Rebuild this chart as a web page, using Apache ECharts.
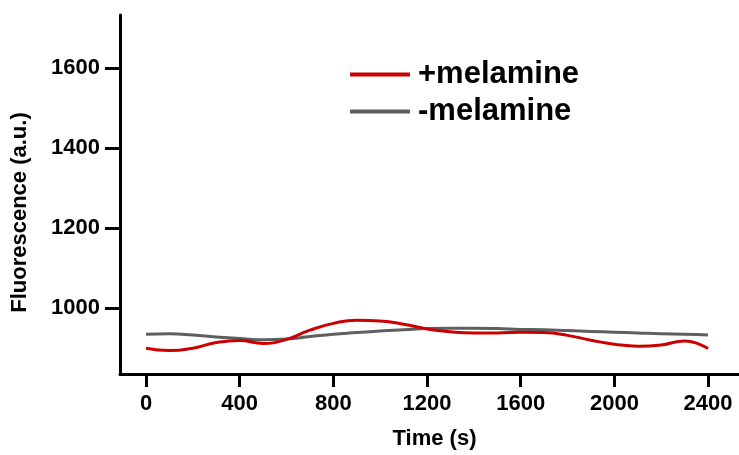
<!DOCTYPE html>
<html>
<head>
<meta charset="utf-8">
<script src="https://cdn.jsdelivr.net/npm/echarts@6/dist/echarts.min.js"></script>
<style>
html,body{margin:0;padding:0;background:#fff;}
#chart{width:739px;height:455px;}
</style>
</head>
<body>
<div id="chart"></div>
<script>
var times = [0,100,200,300,400,500,600,700,800,900,1000,1100,1200,1300,1400,1500,1600,1700,1800,1900,2000,2100,2200,2300,2400];
var plusMelamine = [900,894,900,914,919,912,922,945,962,970,968,960,948,941,938,938,940,939,932,920,910,905,908,918,899];
var minusMelamine = [935,936,933,928,924,921,923,929,935,939,943,946,949,950,950,949,947,946,944,942,940,938,936,935,933];
var xTicks = [0,400,800,1200,1600,2000,2400];
var yTicks = [1000,1200,1400,1600];
var seriesNames = ['+melamine','-melamine'];

function pairs(xs, ys){ return xs.map(function(x,i){ return [x, ys[i]]; }); }

var font = '"Liberation Sans", Arial, sans-serif';
var chart = echarts.init(document.getElementById('chart'), null, {renderer:'canvas'});
chart.setOption({
  animation:false,
  backgroundColor:'#fff',
  grid:{left:120, top:15, right:0, bottom:80, containLabel:false},
  legend:{
    orient:'vertical', left:345, top:54,
    itemWidth:60, itemHeight:4, itemGap:6, icon:'rect',
    textStyle:{fontFamily:font, fontWeight:'bold', fontSize:31, color:'#000', lineHeight:30, padding:[0,0,0,3]},
    data:seriesNames
  },
  xAxis:{
    type:'value', min:-111, max:2532,
    name:'Time (s)', nameLocation:'middle', nameGap:54, nameMoveOverlap:false,
    nameTextStyle:{fontFamily:font, fontWeight:'bold', fontSize:22, color:'#000', padding:[0,0,0,10]},
    splitLine:{show:false},
    axisLine:{onZero:false, lineStyle:{color:'#000', width:3}},
    axisTick:{show:true, length:13, lineStyle:{color:'#000', width:3}, customValues:xTicks},
    axisLabel:{fontFamily:font, fontWeight:'bold', fontSize:22, color:'#000', margin:19, customValues:xTicks,
      formatter:function(v){ return String(v); }}
  },
  yAxis:{
    type:'value', min:835.6, max:1732,
    name:'Fluorescence (a.u.)', nameLocation:'middle', nameGap:89, nameRotate:90, nameMoveOverlap:false,
    nameTextStyle:{fontFamily:font, fontWeight:'bold', fontSize:22, color:'#000', padding:[0,36,0,0]},
    splitLine:{show:false},
    axisLine:{show:true, onZero:false, lineStyle:{color:'#000', width:3}},
    axisTick:{show:true, length:15, lineStyle:{color:'#000', width:3}, customValues:yTicks},
    axisLabel:{fontFamily:font, fontWeight:'bold', fontSize:22, color:'#000', margin:20, customValues:yTicks,
      formatter:function(v){ return String(v); }}
  },
  series:[
    {name:seriesNames[1], type:'line', smooth:0.5, showSymbol:false, data:pairs(times, minusMelamine),
     itemStyle:{color:'#5f5f5f'}, lineStyle:{color:'#5f5f5f', width:3}},
    {name:seriesNames[0], type:'line', smooth:0.5, showSymbol:false, data:pairs(times, plusMelamine),
     itemStyle:{color:'#cc0000'}, lineStyle:{color:'#cc0000', width:3}}
  ]
});
</script>
</body>
</html>
